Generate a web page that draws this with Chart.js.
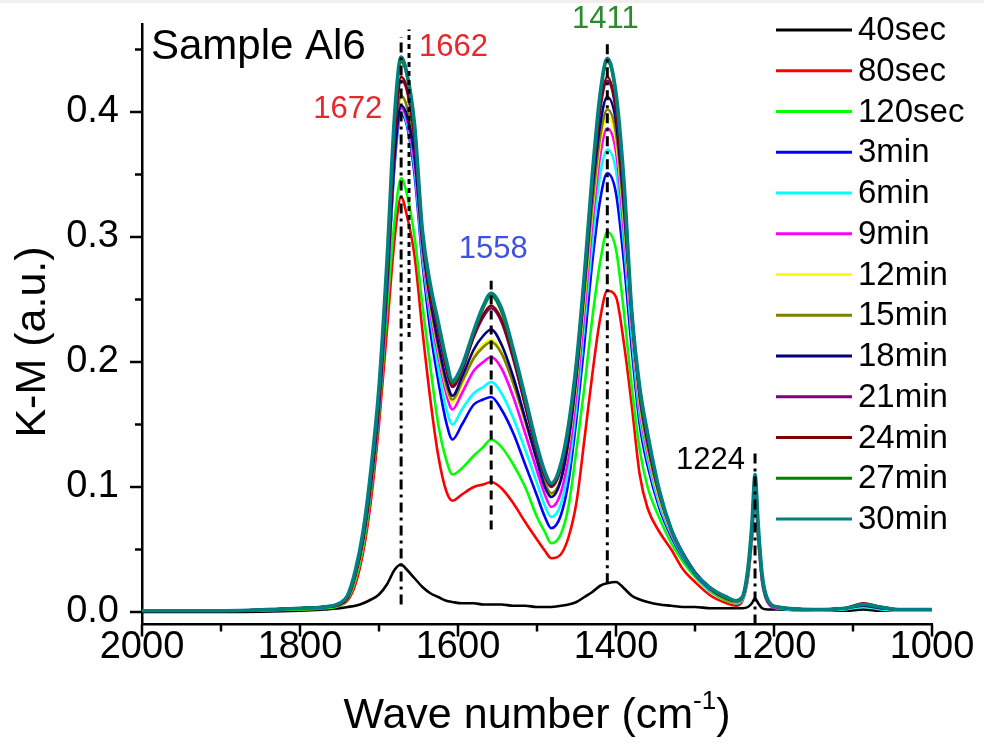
<!DOCTYPE html>
<html>
<head>
<meta charset="utf-8">
<title>Sample Al6 - K-M spectra</title>
<script src="https://cdn.jsdelivr.net/npm/chart.js@4.4.1/dist/chart.umd.min.js"></script>
<style>
    html, body { margin: 0; padding: 0; background: #fff; }
    #wrap { position: relative; width: 984px; height: 746px; }
    #strip { position: absolute; left: 0; top: 0; width: 984px; height: 3px; background: #f1efeb; }
</style>
</head>
<body>
<div id="wrap">
    <canvas id="km-chart" width="984" height="746"></canvas>
    <div id="strip"></div>
</div>
<script>
// Wave numbers (cm-1) shared by every spectrum
const waveNumbers = [2000, 1900, 1800, 1770, 1750, 1740, 1730, 1720, 1710, 1700,
    1690, 1680, 1672, 1665, 1655, 1645, 1635, 1625, 1615, 1607,
    1595, 1580, 1568, 1558, 1545, 1530, 1515, 1500, 1490, 1482,
    1470, 1460, 1450, 1440, 1430, 1420, 1411, 1400, 1390, 1380,
    1370, 1360, 1345, 1330, 1315, 1300, 1280, 1260, 1248, 1240,
    1233, 1228, 1224, 1220, 1215, 1208, 1195, 1150, 1110, 1087,
    1065, 1040, 1000];

const seriesLabels = ['40sec', '80sec', '120sec', '3min', '6min', '9min', '12min',
    '15min', '18min', '21min', '24min', '27min', '30min'];

const km40sec = [0.0, 0.0, 0.001, 0.002, 0.003, 0.004, 0.005, 0.007, 0.010, 0.014,
    0.022, 0.034, 0.038, 0.034, 0.027, 0.020, 0.015, 0.012, 0.009, 0.008,
    0.007, 0.007, 0.006, 0.006, 0.006, 0.005, 0.005, 0.004, 0.004, 0.004,
    0.005, 0.006, 0.008, 0.012, 0.016, 0.021, 0.023, 0.024, 0.019, 0.013,
    0.010, 0.008, 0.006, 0.005, 0.004, 0.004, 0.003, 0.003, 0.003, 0.003,
    0.004, 0.007, 0.011, 0.007, 0.003, 0.002, 0.002, 0.001, 0.001, 0.002,
    0.001, 0.001, 0.001];
const km80sec = [0.001, 0.001, 0.002, 0.003, 0.005, 0.009, 0.022, 0.048, 0.090, 0.150,
    0.225, 0.300, 0.332, 0.318, 0.285, 0.225, 0.170, 0.125, 0.097, 0.089,
    0.094, 0.100, 0.102, 0.104, 0.099, 0.087, 0.072, 0.058, 0.049, 0.043,
    0.046, 0.060, 0.088, 0.138, 0.190, 0.235, 0.257, 0.252, 0.215, 0.165,
    0.110, 0.083, 0.064, 0.050, 0.034, 0.024, 0.013, 0.007, 0.005, 0.009,
    0.027, 0.058, 0.095, 0.058, 0.024, 0.008, 0.003, 0.002, 0.003, 0.005,
    0.003, 0.002, 0.002];
const km120sec = [0.001, 0.001, 0.002, 0.003, 0.005, 0.010, 0.025, 0.052, 0.097, 0.158,
    0.240, 0.315, 0.347, 0.335, 0.300, 0.245, 0.196, 0.150, 0.122, 0.110,
    0.115, 0.125, 0.132, 0.138, 0.132, 0.118, 0.100, 0.076, 0.064, 0.055,
    0.062, 0.085, 0.130, 0.180, 0.235, 0.280, 0.304, 0.290, 0.240, 0.180,
    0.130, 0.100, 0.075, 0.055, 0.040, 0.028, 0.016, 0.009, 0.007, 0.010,
    0.029, 0.060, 0.097, 0.060, 0.025, 0.008, 0.003, 0.002, 0.003, 0.005,
    0.003, 0.002, 0.002];
const km3min = [0.001, 0.001, 0.003, 0.004, 0.006, 0.011, 0.028, 0.056, 0.101, 0.162,
    0.255, 0.360, 0.398, 0.390, 0.350, 0.280, 0.225, 0.185, 0.152, 0.138,
    0.150, 0.166, 0.170, 0.172, 0.162, 0.143, 0.118, 0.093, 0.076, 0.067,
    0.077, 0.105, 0.155, 0.215, 0.280, 0.330, 0.351, 0.335, 0.280, 0.210,
    0.150, 0.117, 0.083, 0.060, 0.043, 0.030, 0.017, 0.010, 0.007, 0.010,
    0.030, 0.061, 0.098, 0.061, 0.025, 0.008, 0.003, 0.002, 0.003, 0.005,
    0.003, 0.002, 0.002];
const km6min = [0.001, 0.001, 0.003, 0.004, 0.006, 0.011, 0.028, 0.056, 0.102, 0.163,
    0.255, 0.362, 0.400, 0.392, 0.355, 0.285, 0.235, 0.195, 0.163, 0.150,
    0.162, 0.175, 0.180, 0.184, 0.175, 0.155, 0.130, 0.103, 0.085, 0.076,
    0.086, 0.115, 0.165, 0.230, 0.295, 0.350, 0.370, 0.353, 0.295, 0.220,
    0.157, 0.122, 0.086, 0.062, 0.044, 0.030, 0.017, 0.010, 0.007, 0.010,
    0.030, 0.062, 0.099, 0.062, 0.026, 0.008, 0.003, 0.001, 0.002, 0.004,
    0.002, 0.001, 0.001];
const km9min = [0.001, 0.001, 0.003, 0.004, 0.006, 0.011, 0.028, 0.057, 0.103, 0.164,
    0.256, 0.365, 0.403, 0.395, 0.360, 0.290, 0.240, 0.205, 0.175, 0.162,
    0.175, 0.193, 0.200, 0.204, 0.195, 0.172, 0.143, 0.113, 0.094, 0.084,
    0.095, 0.125, 0.175, 0.240, 0.310, 0.365, 0.387, 0.368, 0.305, 0.228,
    0.163, 0.127, 0.089, 0.063, 0.045, 0.031, 0.018, 0.010, 0.008, 0.011,
    0.031, 0.063, 0.100, 0.063, 0.026, 0.008, 0.003, 0.002, 0.003, 0.005,
    0.003, 0.002, 0.002];
const km12min = [0.001, 0.001, 0.003, 0.004, 0.006, 0.011, 0.028, 0.057, 0.104, 0.166,
    0.260, 0.370, 0.412, 0.405, 0.370, 0.295, 0.245, 0.210, 0.180, 0.168,
    0.182, 0.205, 0.214, 0.218, 0.208, 0.183, 0.152, 0.121, 0.102, 0.094,
    0.105, 0.135, 0.185, 0.250, 0.320, 0.375, 0.396, 0.377, 0.313, 0.232,
    0.167, 0.130, 0.090, 0.064, 0.045, 0.031, 0.018, 0.010, 0.008, 0.011,
    0.032, 0.064, 0.102, 0.064, 0.027, 0.009, 0.004, 0.002, 0.003, 0.005,
    0.003, 0.002, 0.002];
const km15min = [0.001, 0.001, 0.003, 0.004, 0.006, 0.011, 0.029, 0.058, 0.105, 0.167,
    0.262, 0.372, 0.413, 0.405, 0.370, 0.295, 0.247, 0.212, 0.182, 0.170,
    0.184, 0.203, 0.212, 0.216, 0.207, 0.183, 0.153, 0.122, 0.103, 0.095,
    0.106, 0.137, 0.188, 0.255, 0.325, 0.380, 0.402, 0.383, 0.318, 0.235,
    0.170, 0.132, 0.092, 0.065, 0.046, 0.031, 0.018, 0.010, 0.008, 0.011,
    0.032, 0.065, 0.103, 0.065, 0.027, 0.009, 0.004, 0.002, 0.003, 0.005,
    0.003, 0.002, 0.002];
const km18min = [0.001, 0.001, 0.003, 0.004, 0.006, 0.011, 0.029, 0.058, 0.104, 0.165,
    0.258, 0.365, 0.405, 0.398, 0.365, 0.295, 0.250, 0.215, 0.186, 0.173,
    0.188, 0.210, 0.221, 0.226, 0.214, 0.188, 0.155, 0.121, 0.100, 0.092,
    0.105, 0.138, 0.190, 0.260, 0.335, 0.390, 0.412, 0.392, 0.325, 0.240,
    0.174, 0.136, 0.094, 0.066, 0.047, 0.032, 0.019, 0.011, 0.009, 0.012,
    0.033, 0.066, 0.104, 0.066, 0.028, 0.009, 0.004, 0.002, 0.003, 0.005,
    0.003, 0.002, 0.002];
const km21min = [0.001, 0.001, 0.003, 0.004, 0.006, 0.012, 0.030, 0.060, 0.107, 0.170,
    0.265, 0.380, 0.425, 0.418, 0.378, 0.300, 0.255, 0.225, 0.195, 0.180,
    0.193, 0.220, 0.236, 0.243, 0.232, 0.202, 0.165, 0.128, 0.108, 0.100,
    0.114, 0.146, 0.196, 0.265, 0.342, 0.402, 0.425, 0.400, 0.333, 0.234,
    0.175, 0.139, 0.095, 0.065, 0.045, 0.030, 0.018, 0.011, 0.009, 0.012,
    0.033, 0.066, 0.105, 0.066, 0.028, 0.009, 0.004, 0.002, 0.003, 0.006,
    0.004, 0.002, 0.002];
const km24min = [0.001, 0.001, 0.003, 0.004, 0.006, 0.012, 0.030, 0.060, 0.108, 0.172,
    0.268, 0.385, 0.428, 0.420, 0.380, 0.300, 0.256, 0.226, 0.196, 0.181,
    0.194, 0.221, 0.238, 0.245, 0.234, 0.204, 0.166, 0.129, 0.109, 0.101,
    0.115, 0.147, 0.197, 0.266, 0.344, 0.405, 0.428, 0.403, 0.336, 0.236,
    0.176, 0.140, 0.096, 0.066, 0.046, 0.031, 0.018, 0.011, 0.009, 0.012,
    0.033, 0.067, 0.106, 0.067, 0.028, 0.009, 0.004, 0.002, 0.003, 0.007,
    0.004, 0.002, 0.002];
const km27min = [0.001, 0.001, 0.003, 0.004, 0.007, 0.012, 0.031, 0.062, 0.112, 0.177,
    0.275, 0.395, 0.440, 0.430, 0.388, 0.303, 0.260, 0.230, 0.200, 0.183,
    0.196, 0.224, 0.243, 0.253, 0.240, 0.208, 0.170, 0.131, 0.111, 0.103,
    0.117, 0.149, 0.199, 0.268, 0.348, 0.412, 0.440, 0.412, 0.342, 0.238,
    0.178, 0.141, 0.097, 0.066, 0.046, 0.031, 0.019, 0.011, 0.009, 0.012,
    0.034, 0.068, 0.108, 0.068, 0.029, 0.010, 0.004, 0.002, 0.003, 0.006,
    0.004, 0.002, 0.002];
const km30min = [0.001, 0.001, 0.003, 0.004, 0.007, 0.013, 0.033, 0.065, 0.115, 0.180,
    0.280, 0.400, 0.444, 0.432, 0.390, 0.305, 0.262, 0.232, 0.202, 0.185,
    0.197, 0.225, 0.245, 0.255, 0.243, 0.210, 0.172, 0.133, 0.112, 0.103,
    0.118, 0.150, 0.200, 0.270, 0.350, 0.415, 0.443, 0.415, 0.345, 0.240,
    0.180, 0.143, 0.097, 0.066, 0.046, 0.031, 0.019, 0.012, 0.009, 0.012,
    0.035, 0.070, 0.110, 0.070, 0.030, 0.010, 0.004, 0.002, 0.003, 0.006,
    0.004, 0.002, 0.002];

const seriesValues = [km40sec, km80sec, km120sec, km3min, km6min, km9min, km12min,
    km15min, km18min, km21min, km24min, km27min, km30min];

// Peak markers (dashed guide lines) and their labels
const markerWave = [1672, 1662, 1558, 1411, 1224];
const markerFrom = [0.006, 0.22, 0.066, 0.023, -0.01];
const markerTo = [0.46, 0.466, 0.265, 0.458, 0.13];
const peakLabelText = ['1662', '1672', '1558', '1411', '1224'];
const peakLabelWave = [1662, 1672, 1558, 1411, 1224];
const peakLabelValue = [0.452, 0.402, 0.29, 0.474, 0.121];

// Axis ticks (labels shown on the major ones only)
const yTickValues = [0, 0.05, 0.1, 0.15, 0.2, 0.25, 0.3, 0.35, 0.4, 0.45];
const xTickValues = [2000, 1900, 1800, 1700, 1600, 1500, 1400, 1300, 1200, 1100, 1000];

// ---- styles ----
const FONT = "'Liberation Sans', Arial, sans-serif";
const seriesColors = ['#000000', '#ff0000', '#00ff00', '#0000ff', '#00ffff', '#ff00ff',
    '#ffff00', '#808000', '#000080', '#800080', '#800000', '#008000', '#008080'];
const markerDashes = [[10, 5, 3, 5], [5, 4], [9, 6], [10, 5, 3, 5], [10, 5, 3, 5]];
const labelStyles = [
    { color: '#e8262b', align: 'left', dx: 10 },
    { color: '#e8262b', align: 'right', dx: -19 },
    { color: '#3f51e3', align: 'center', dx: 2 },
    { color: '#2b8a2b', align: 'center', dx: -2 },
    { color: '#000000', align: 'right', dx: -10 }
];

const isMajor = (v, step) => Math.abs(v / step - Math.round(v / step)) < 1e-6;

const seriesDatasets = seriesLabels.map((label, i) => ({
    label: label,
    isSeries: true,
    data: waveNumbers.map((w, j) => ({ x: w, y: seriesValues[i][j] })),
    borderColor: seriesColors[i],
    backgroundColor: seriesColors[i],
    borderWidth: i === seriesLabels.length - 1 ? 3.6 : 2.6,
    pointRadius: 0,
    cubicInterpolationMode: 'monotone',
    borderJoinStyle: 'round',
    order: seriesLabels.length - i
}));

const markerDatasets = markerWave.map((w, i) => ({
    label: 'marker ' + w,
    isSeries: false,
    data: [{ x: w, y: markerFrom[i] }, { x: w, y: markerTo[i] }],
    borderColor: '#000',
    borderWidth: 3,
    borderDash: markerDashes[i],
    pointRadius: 0,
    order: 0
}));

const decorPlugin = {
    id: 'decor',
    afterDraw(chart) {
        const { ctx, chartArea, scales: { x, y } } = chart;
        ctx.save();

        // tick marks, outward, minor ones shorter
        ctx.strokeStyle = '#000';
        ctx.lineWidth = 2.5;
        y.ticks.forEach(t => {
            const py = y.getPixelForValue(t.value);
            const len = isMajor(t.value, 0.1) ? 12 : 7;
            ctx.beginPath();
            ctx.moveTo(chartArea.left, py);
            ctx.lineTo(chartArea.left - len, py);
            ctx.stroke();
        });
        x.ticks.forEach(t => {
            const px = x.getPixelForValue(t.value);
            const len = isMajor(t.value, 200) ? 12 : 7;
            ctx.beginPath();
            ctx.moveTo(px, chartArea.bottom);
            ctx.lineTo(px, chartArea.bottom + len);
            ctx.stroke();
        });

        // sample name
        ctx.fillStyle = '#000';
        ctx.font = `42px ${FONT}`;
        ctx.textAlign = 'left';
        ctx.textBaseline = 'middle';
        ctx.fillText('Sample Al6', chartArea.left + 9, 47);

        // peak labels
        ctx.font = `31px ${FONT}`;
        peakLabelText.forEach((txt, i) => {
            const st = labelStyles[i];
            ctx.fillStyle = st.color;
            ctx.textAlign = st.align;
            ctx.fillText(txt, x.getPixelForValue(peakLabelWave[i]) + st.dx, y.getPixelForValue(peakLabelValue[i]));
        });

        // axis titles
        ctx.fillStyle = '#000';
        ctx.textAlign = 'center';
        ctx.save();
        ctx.translate(33, 342);
        ctx.rotate(-Math.PI / 2);
        ctx.font = `43px ${FONT}`;
        ctx.fillText('K-M (a.u.)', 0, 0);
        ctx.restore();

        const main = 'Wave number (cm';
        const sup = '-1';
        const tail = ')';
        ctx.font = `43px ${FONT}`;
        const wMain = ctx.measureText(main).width;
        const wTail = ctx.measureText(tail).width;
        ctx.font = `26px ${FONT}`;
        const wSup = ctx.measureText(sup).width;
        const total = wMain + wSup + wTail;
        let tx = (chartArea.left + chartArea.right) / 2 - total / 2;
        const ty = 716;
        ctx.textAlign = 'left';
        ctx.font = `43px ${FONT}`;
        ctx.fillText(main, tx, ty);
        tx += wMain;
        ctx.font = `26px ${FONT}`;
        ctx.fillText(sup, tx, ty - 14);
        tx += wSup;
        ctx.font = `43px ${FONT}`;
        ctx.fillText(tail, tx, ty);

        // legend
        const series = chart.data.datasets.filter(d => d.isSeries);
        ctx.font = `33px ${FONT}`;
        ctx.textAlign = 'left';
        ctx.lineWidth = 3;
        series.forEach((ds, i) => {
            const ly = 30 + i * 40.75;
            ctx.strokeStyle = ds.borderColor;
            ctx.beginPath();
            ctx.moveTo(776, ly);
            ctx.lineTo(852, ly);
            ctx.stroke();
            ctx.fillStyle = '#000';
            ctx.fillText(ds.label, 858, ly + 1);
        });

        ctx.restore();
    }
};

new Chart(document.getElementById('km-chart'), {
    type: 'line',
    data: { datasets: [...seriesDatasets, ...markerDatasets] },
    options: {
        responsive: false,
        animation: false,
        layout: { padding: { left: 0, right: 52, top: 24.5, bottom: 0 } },
        plugins: {
            legend: { display: false },
            tooltip: { enabled: false }
        },
        scales: {
            x: {
                type: 'linear',
                reverse: true,
                min: 1000,
                max: 2000,
                grid: { display: false, drawTicks: false },
                border: { display: true, color: '#000', width: 2.5 },
                ticks: {
                    autoSkip: false,
                    maxRotation: 0,
                    padding: 0,
                    color: '#000',
                    font: { family: FONT, size: 38 },
                    callback: v => isMajor(v, 200) ? String(v) : ''
                },
                afterBuildTicks: axis => {
                    axis.ticks = xTickValues.map(v => ({ value: v }));
                },
                afterFit: s => {
                    s.height = 121.5;
                    s.paddingLeft = 0;
                    s.paddingRight = 0;
                }
            },
            y: {
                type: 'linear',
                min: -0.01,
                max: 0.47,
                grid: { display: false, drawTicks: false },
                border: { display: true, color: '#000', width: 2.5 },
                ticks: {
                    autoSkip: false,
                    padding: 23,
                    color: '#000',
                    font: { family: FONT, size: 38 },
                    callback: v => isMajor(v, 0.1) ? v.toFixed(1) : ''
                },
                afterBuildTicks: axis => {
                    axis.ticks = yTickValues.map(v => ({ value: v }));
                },
                afterFit: s => {
                    s.width = 142;
                    s.paddingTop = 0;
                    s.paddingBottom = 0;
                }
            }
        }
    },
    plugins: [decorPlugin]
});
</script>
</body>
</html>
